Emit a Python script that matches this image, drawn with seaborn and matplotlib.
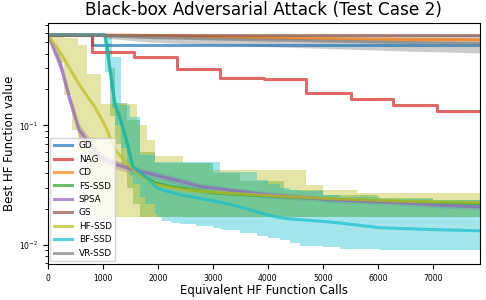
"""
Black-box adversarial attack, test case 2.
Best HF function value vs equivalent HF function calls, per method.
"""

import matplotlib

matplotlib.use("Agg")
import matplotlib.pyplot as plt
import pandas as pd
import seaborn as sns

# ---- data (median line + min/max band) ----
methods = ["GD", "NAG", "CD", "FS-SSD", "SPSA", "GS", "HF-SSD", "BF-SSD", "VR-SSD"]
colors = ["tab:blue", "tab:red", "tab:orange", "tab:green", "tab:purple",
          "tab:brown", "tab:olive", "tab:cyan", "tab:gray"]

gd_x = [0, 800, 7860]
gd_mid = [0.575, 0.474, 0.474]
gd_lo = [0.575, 0.474, 0.474]
gd_hi = [0.575, 0.474, 0.474]

nag_x = [0, 800, 1575, 2345, 3133, 3938, 4696, 5515, 6284, 7084, 7860]
nag_mid = [0.575, 0.412, 0.374, 0.297, 0.249, 0.245, 0.187, 0.166, 0.149, 0.133, 0.133]
nag_lo = nag_mid
nag_hi = nag_mid

cd_x = [0, 1500, 2500, 3500, 4500, 5500, 6500, 7860]
cd_mid = [0.575, 0.57, 0.56, 0.548, 0.538, 0.531, 0.526, 0.523]
cd_lo = [0.575, 0.565, 0.55, 0.535, 0.525, 0.518, 0.513, 0.51]
cd_hi = [0.575, 0.575, 0.57, 0.56, 0.55, 0.543, 0.538, 0.535]

fs_x = [0, 1040, 1100, 1130, 1225, 1330, 1450, 1550, 1680, 1800, 1950, 2200, 3000, 3500,
        4300, 5000, 6000, 7000, 7860]
fs_mid = [0.575, 0.575, 0.40, 0.30, 0.15, 0.11, 0.07, 0.045, 0.040, 0.036, 0.033, 0.031,
          0.0272, 0.0263, 0.0252, 0.0243, 0.0233, 0.0227, 0.0222]
fs_lo = [0.575, 0.575, 0.30, 0.12, 0.07, 0.045, 0.030, 0.022, 0.0172, 0.0172, 0.0172,
         0.0172, 0.0172, 0.0172, 0.0172, 0.0172, 0.0172, 0.0172, 0.0172]
fs_hi = [0.575, 0.575, 0.40, 0.30, 0.155, 0.155, 0.11, 0.11, 0.06, 0.06, 0.048, 0.048,
         0.040, 0.034, 0.0285, 0.026, 0.0245, 0.0235, 0.023]

spsa_x = [0, 100, 225, 390, 570, 750, 950, 1250, 1550, 2160, 2770, 3400, 3990, 4600, 5190,
          5800, 6410, 7100, 7860]
spsa_mid = [0.575, 0.45, 0.336, 0.174, 0.092, 0.071, 0.0546, 0.047, 0.0425, 0.0365, 0.0308,
            0.0283, 0.0263, 0.025, 0.0238, 0.0231, 0.0225, 0.0215, 0.0207]
spsa_lo = [0.575, 0.40, 0.29, 0.15, 0.080, 0.062, 0.050, 0.043, 0.039, 0.0338, 0.0287,
           0.0265, 0.0247, 0.0236, 0.0225, 0.0219, 0.0213, 0.0204, 0.0196]
spsa_hi = [0.575, 0.50, 0.38, 0.20, 0.104, 0.080, 0.060, 0.051, 0.046, 0.0393, 0.0330,
           0.0302, 0.0280, 0.0265, 0.0251, 0.0243, 0.0237, 0.0226, 0.0218]

gs_x = [0, 7860]
gs_mid = [0.575, 0.575]
gs_lo = [0.575, 0.575]
gs_hi = [0.575, 0.575]

hf_x = [0, 60, 110, 170, 300, 440, 550, 720, 850, 970, 1080, 1190, 1370, 1620, 1800, 1950,
        2460, 2950, 3700, 4400, 4700, 5000, 5620, 6500, 7860]
hf_mid = [0.575, 0.53, 0.49, 0.45, 0.36, 0.28, 0.23, 0.175, 0.145, 0.115, 0.092, 0.066, 0.052,
          0.040, 0.035, 0.032, 0.029, 0.0277, 0.0263, 0.0253, 0.0249, 0.0245, 0.0239, 0.0231,
          0.0226]
hf_lo = [0.575, 0.50, 0.43, 0.336, 0.18, 0.092, 0.060, 0.032, 0.0172, 0.0172, 0.0172, 0.0172,
         0.0172, 0.0172, 0.0172, 0.0172, 0.0172, 0.0172, 0.0172, 0.0172, 0.0172, 0.0172,
         0.0172, 0.0172, 0.0172]
hf_hi = [0.575, 0.575, 0.575, 0.575, 0.54, 0.54, 0.47, 0.27, 0.27, 0.15, 0.15, 0.15, 0.15,
         0.10, 0.075, 0.055, 0.048, 0.0424, 0.0424, 0.0424, 0.0317, 0.029, 0.0272, 0.0272,
         0.0272]

bf_x = [0, 1000, 1040, 1130, 1170, 1225, 1330, 1450, 1500, 1550, 1680, 1770, 1950, 1990, 2080,
        2250, 2400, 2700, 3000, 3130, 3190, 3500, 3800, 4000, 4228, 4400, 4590, 5000, 5320,
        6040, 7000, 7860]
bf_mid = [0.575, 0.575, 0.575, 0.30, 0.22, 0.15, 0.11, 0.07, 0.055, 0.045, 0.040, 0.0371,
          0.031, 0.030, 0.0288, 0.0275, 0.0262, 0.0248, 0.0233, 0.0227, 0.0225, 0.0207,
          0.0189, 0.0178, 0.0168, 0.0165, 0.0162, 0.0157, 0.0152, 0.0139, 0.0134, 0.0131]
bf_lo = [0.575, 0.575, 0.28, 0.20, 0.14, 0.10, 0.065, 0.045, 0.038, 0.032, 0.025, 0.022,
         0.018, 0.017, 0.0157, 0.0152, 0.0148, 0.0143, 0.0138, 0.0135, 0.0133, 0.0126,
         0.0118, 0.0114, 0.0109, 0.0104, 0.0098, 0.0095, 0.0093, 0.0091, 0.0090, 0.0089]
bf_hi = [0.575, 0.575, 0.575, 0.575, 0.376, 0.376, 0.149, 0.149, 0.118, 0.118, 0.0568,
         0.0568, 0.0497, 0.0497, 0.0497, 0.0497, 0.0497, 0.0497, 0.0497, 0.041, 0.041, 0.041,
         0.035, 0.032, 0.030, 0.029, 0.028, 0.026, 0.025, 0.024, 0.0235, 0.023]

vr_x = [0, 800, 1200, 1860, 2700, 3500, 4500, 5500, 6500, 7860]
vr_mid = [0.575, 0.575, 0.56, 0.545, 0.535, 0.525, 0.515, 0.505, 0.495, 0.485]
vr_lo = [0.575, 0.575, 0.53, 0.50, 0.48, 0.465, 0.45, 0.435, 0.42, 0.405]
vr_hi = [0.575, 0.575, 0.575, 0.575, 0.575, 0.575, 0.575, 0.575, 0.575, 0.575]

series = {
    "GD": (gd_x, gd_mid, gd_lo, gd_hi),
    "NAG": (nag_x, nag_mid, nag_lo, nag_hi),
    "CD": (cd_x, cd_mid, cd_lo, cd_hi),
    "FS-SSD": (fs_x, fs_mid, fs_lo, fs_hi),
    "SPSA": (spsa_x, spsa_mid, spsa_lo, spsa_hi),
    "GS": (gs_x, gs_mid, gs_lo, gs_hi),
    "HF-SSD": (hf_x, hf_mid, hf_lo, hf_hi),
    "BF-SSD": (bf_x, bf_mid, bf_lo, bf_hi),
    "VR-SSD": (vr_x, vr_mid, vr_lo, vr_hi),
}
# which curves are plain staircases, which have stepped bands
step_lines = {"GD", "NAG"}
step_bands = {"FS-SSD", "HF-SSD", "BF-SSD"}


def to_long(name):
    """three pseudo runs (lo / mid / hi) so median = mid and min-max = band"""
    x, mid, lo, hi = series[name]
    rows = []
    for run, vals in (("lo", lo), ("mid", mid), ("hi", hi)):
        for xi, yi in zip(x, vals):
            rows.append({"calls": xi, "value": yi, "run": run})
    return pd.DataFrame(rows)


fig, ax = plt.subplots(figsize=(4.86, 3.0), dpi=100)
fig.subplots_adjust(left=0.098, right=0.988, top=0.923, bottom=0.12)

for name, col in zip(methods, colors):
    df = to_long(name)
    line_kws = {"drawstyle": "steps-post"} if name in step_lines else {}
    err_kws = {"alpha": 0.4, "linewidth": 0}
    if name in step_bands or name in step_lines:
        err_kws["step"] = "post"
    sns.lineplot(data=df, x="calls", y="value", estimator="median",
                 errorbar=("pi", 100), color=col, label=name, linewidth=2.2,
                 alpha=0.7, err_kws=err_kws, ax=ax, **line_kws)

ax.set_yscale("log")
ax.set_xlim(0, 7860)
ax.set_ylim(0.0069, 0.72)
ax.set_title("Black-box Adversarial Attack (Test Case 2)", fontsize=12.2)
ax.set_xlabel("Equivalent HF Function Calls", fontsize=8.5, labelpad=1)
ax.set_ylabel("Best HF Function value", fontsize=8.5, labelpad=2)
ax.tick_params(labelsize=5.5)
ax.legend(loc="lower left", fontsize=6.4, handlelength=2.0, borderaxespad=0.3,
          labelspacing=0.5)

plt.savefig("out.png", dpi=100)
